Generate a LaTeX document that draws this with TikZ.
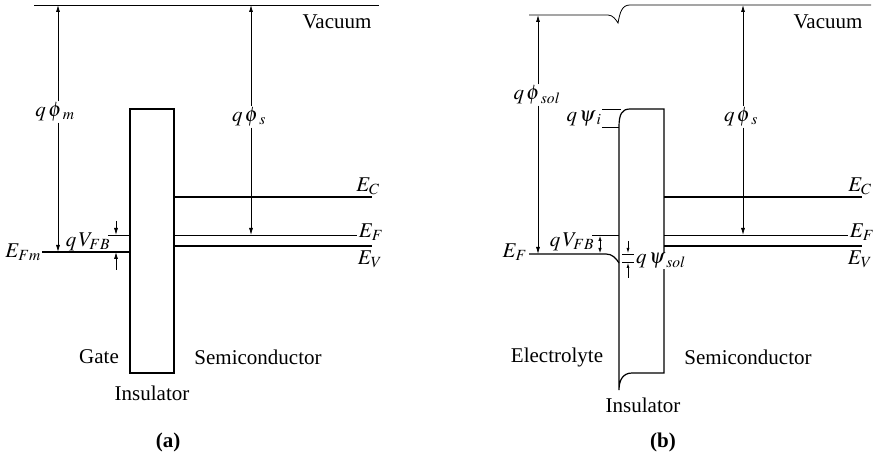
\documentclass[tikz,border=0pt]{standalone}
\usepackage{mathptmx}
\usepackage[no-math]{fontspec}
\setmainfont{Liberation Serif}
\usetikzlibrary{arrows.meta}
\begin{document}
\begin{tikzpicture}[x=1pt,y=-1pt,
  lvl/.style={line width=1.2pt},
  thinl/.style={line width=0.8pt},
  arr/.style={line width=0.8pt,-{Latex[length=7pt,width=4pt]}},
  lbl/.style={font=\fontsize{21}{25}\selectfont, inner sep=1pt},
  bold/.style={font=\fontsize{21}{25}\selectfont\bfseries, inner sep=1pt}]
\useasboundingbox (0,0) rectangle (876,457);
% ================= panel (a) =================
\coordinate (va1) at (34,5); \coordinate (va2) at (379,5);
\draw[thinl] (va1) -- (va2);
\node[lbl] (vacA) at (337,22) {Vacuum};
% insulator
\node[draw, lvl, minimum width=44pt, minimum height=264pt, inner sep=0pt] (insA) at (152,241) {};
% levels
\coordinate (ecA1) at (174,197); \coordinate (ecA2) at (372,197);
\coordinate (efA1) at (174,235); \coordinate (efA2) at (357,235);
\coordinate (evA1) at (174,246); \coordinate (evA2) at (372,246);
\coordinate (efm1) at (42,252);  \coordinate (efm2) at (130,252);
\coordinate (vfb1) at (108,235); \coordinate (vfb2) at (130,235);
\draw[lvl] (ecA1) -- (ecA2);
\draw[thinl] (efA1) -- (efA2);
\draw[lvl] (evA1) -- (evA2);
\draw[lvl] (efm1) -- (efm2);
\draw[thinl] (vfb1) -- (vfb2);
\node[lbl] (ECa) at (368,186) {$E_C$};
\node[lbl] (EFa) at (371,232) {$E_F$};
\node[lbl] (EVa) at (370,259) {$E_V$};
\node[lbl,anchor=east] (EFm) at (42,252) {$E_{Fm}$};
% q phi_m
\node[lbl] (qpm) at (55,112) {$q\,\phi\mkern1mu_m$};
\coordinate (pmT) at (58,5); \coordinate (pmB) at (58,252);
\draw[arr] (qpm.north -| pmT) -- (pmT);
\draw[arr] (qpm.south -| pmB) -- (pmB);
% q phi_s
\node[lbl] (qpsA) at (249,117) {$q\,\phi\mkern1mu_s$};
\coordinate (psAT) at (251,5); \coordinate (psAB) at (251,235);
\draw[arr] (qpsA.north -| psAT) -- (psAT);
\draw[arr] (qpsA.south -| psAB) -- (psAB);
% q V_FB
\node[lbl] (vfbA) at (88,242) {$q\,V_{FB}$};
\coordinate (vfbAt0) at (116,221); \coordinate (vfbAt1) at (116,235);
\coordinate (vfbAb0) at (116,270); \coordinate (vfbAb1) at (116,252);
\draw[arr] (vfbAt0) -- (vfbAt1);
\draw[arr] (vfbAb0) -- (vfbAb1);
% labels
\node[lbl] (gate) at (99,357) {Gate};
\node[lbl] (semiA) at (258,357) {Semiconductor};
\node[lbl] (insLA) at (152,393) {Insulator};
\node[bold] (capA) at (168,442) {(a)};
% ================= panel (b) =================
\coordinate (vb1) at (529,15); \coordinate (vb2) at (871,5);
\draw[thinl] (vb1) -- (608,15) .. controls (613,15) and (616,20) .. (618,23)
  .. controls (620,12) and (622,5) .. (630,5) -- (vb2);
\node[lbl] (vacB) at (828,22) {Vacuum};
% insulator
\coordinate (ib1) at (619,127); \coordinate (ib2) at (664,109);
\coordinate (ib3) at (664,373); \coordinate (ib4) at (619,390);
\draw[lvl] (ib1) .. controls (619,114) and (622,109) .. (630,109) -- (ib2) -- (ib3)
  -- (632,373) .. controls (623,373) and (619,380) .. (ib4) -- cycle;
% q psi_i
\coordinate (psi1) at (602,127); \coordinate (psi2) at (602,109);
\draw[thinl] (psi1) -- (ib1);
\draw[line width=0.4pt] (psi2) -- (621,109);
\node[lbl] (qpsi) at (584,119) {$q\,\psi\mkern1mu_i$};
% levels
\coordinate (ecB1) at (664,197); \coordinate (ecB2) at (862,197);
\coordinate (efB1) at (664,235); \coordinate (efB2) at (848,235);
\coordinate (evB1) at (664,246); \coordinate (evB2) at (862,246);
\draw[lvl] (ecB1) -- (ecB2);
\draw[thinl] (efB1) -- (efB2);
\draw[lvl] (evB1) -- (evB2);
\node[lbl] (ECb) at (860,186) {$E_C$};
\node[lbl] (EFb) at (862,232) {$E_F$};
\node[lbl] (EVb) at (860,259) {$E_V$};
% electrolyte Fermi level
\coordinate (efL1) at (529,254); \coordinate (efL2) at (619,263);
\draw[lvl] (efL1) -- (606,254) .. controls (612,254) and (616,258) .. (efL2);
\node[lbl,anchor=east] (EFl) at (528,252) {$E_F$};
% q phi_sol
\node[lbl] (qpsol) at (537,95) {$q\,\phi\mkern1mu_{sol}$};
\coordinate (psolT) at (538,15); \coordinate (psolB) at (538,254);
\draw[arr] (qpsol.north -| psolT) -- (psolT);
\draw[arr] (qpsol.south -| psolB) -- (psolB);
% q phi_s
\node[lbl] (qpsB) at (741,117) {$q\,\phi\mkern1mu_s$};
\coordinate (psBT) at (743,5); \coordinate (psBB) at (743,235);
\draw[arr] (qpsB.north -| psBT) -- (psBT);
\draw[arr] (qpsB.south -| psBB) -- (psBB);
% q V_FB
\coordinate (vfbB1) at (592,235); \coordinate (vfbB2) at (619,235);
\draw[thinl] (vfbB1) -- (vfbB2);
\coordinate (vfbBt) at (600,236); \coordinate (vfbBb) at (600,253);
\draw[line width=0.8pt,{Latex[length=5pt,width=3.5pt]}-{Latex[length=5pt,width=3.5pt]}] (vfbBt) -- (vfbBb);
\node[lbl] (vfbB) at (572,242) {$q\,V_{FB}$};
% q psi_sol
\coordinate (ps1a) at (622,254); \coordinate (ps1b) at (634,254);
\coordinate (ps2a) at (622,262); \coordinate (ps2b) at (634,262);
\draw[thinl] (ps1a) -- (ps1b);
\draw[thinl] (ps2a) -- (ps2b);
\coordinate (psT0) at (628,241); \coordinate (psT1) at (628,253);
\coordinate (psB0) at (628,278); \coordinate (psB1) at (628,263);
\draw[line width=0.7pt,-{Latex[length=5pt,width=3pt]}] (psT0) -- (psT1);
\draw[line width=0.7pt,-{Latex[length=5pt,width=3pt]}] (psB0) -- (psB1);
\node[lbl,anchor=west,fill=white,inner sep=0pt] (qpsisol) at (636,261) {$q\,\psi\mkern1mu_{sol}$};
% labels
\node[lbl] (elec) at (557,357) {Electrolyte};
\node[lbl] (semiB) at (748,357) {Semiconductor};
\node[lbl] (insLB) at (643,405) {Insulator};
\node[bold] (capB) at (663,442) {(b)};
\end{tikzpicture}
\end{document}
